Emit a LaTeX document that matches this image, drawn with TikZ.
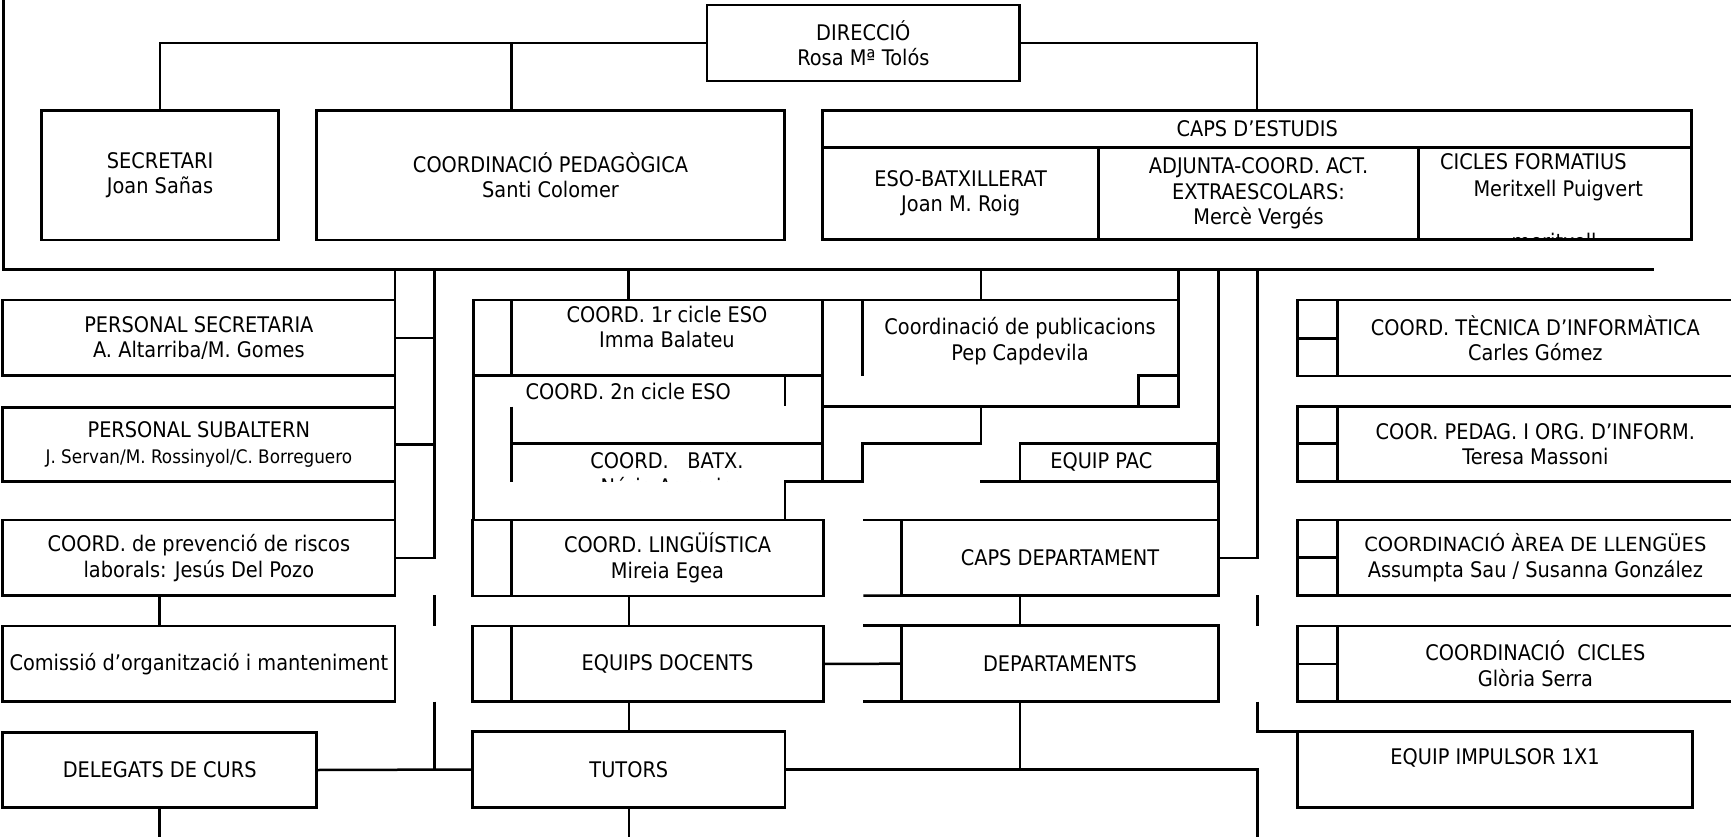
\documentclass[tikz,border=0pt]{standalone}
\usepackage{fontspec}
\setmainfont{DejaVu Sans}[FakeStretch=0.9]
\newfontfamily\widefont{DejaVu Sans}
\def\lw{2.5pt}
\def\orgbox(#1)(#2,#3)(#4,#5)#6{\node[bx, minimum width={(#4-(#2))*1pt}, minimum height={(#5-(#3))*1pt}] (#1) at ({(#2+#4)/2},{(#3+#5)/2}) {#6};}
\tikzset{
  bx/.style={draw, line width=\lw, inner sep=0pt, outer sep=0pt, align=center},
  ln/.style={line width=\lw},
  txt/.style={inner sep=0pt, align=center}
}

\begin{document}
\begin{tikzpicture}[x=1pt, y=-1pt, every node/.style={font=\fontsize{21.5}{25.5}\selectfont}]
			%%%%% START %%%%%
			\useasboundingbox (0,0) rectangle (1731,837);
			\clip (0,0) rectangle (1731,837);
			
			\orgbox(dir)(707,5)(1019.7,81){DIRECCIÓ\\Rosa Mª Tolós}
			\orgbox(sec)(41.7,110.7)(278.3,240){SECRETARI\\Joan Sañas}
			\orgbox(cped)(316.5,110.7)(784.5,240){COORDINACIÓ PEDAGÒGICA\\Santi Colomer}
			\orgbox(capsh)(822.6,110.7)(1691.7,147.5){CAPS D’ESTUDIS}
			\orgbox(eso)(822.6,147.5)(1098.7,239.3){ESO-BATXILLERAT\\Joan M. Roig}
			\orgbox(adj)(1098.7,147.5)(1418.3,239.3){ADJUNTA-COORD. ACT.\\EXTRAESCOLARS:\\Mercè Vergés}
			\orgbox(cfm)(1418.3,147.5)(1691.7,239.3){}
			\node[txt, anchor=base west] (cfmt) at (1440,170) {CICLES FORMATIUS};
			\node[txt, anchor=base west] (cfmn) at (1473.3,196.7) {Meritxell Puigvert};
			\begin{scope}
				\clip (cfm.north west) rectangle (cfm.south east);
				\node[txt, anchor=base] (cfmm) at (1554,249.5) {meritxell};
			\end{scope}
			
			\coordinate (cpedin) at (511.5,110.7);
			\draw[ln] (dir.west) -| (sec.north);
			\draw[ln] (cpedin) -- (cpedin |- dir.west);
			\draw[ln] (dir.east) -| (capsh.north);
			
			\coordinate (fr) at (3.3,269.3);
			\draw[ln] (3.3,0) -- (fr) -- (1654,269.3);
			
			% left column
			\orgbox(psec)(2.7,300)(395,375.7){PERSONAL SECRETARIA\\A. Altarriba/M. Gomes}
			\orgbox(psub)(2.7,407.3)(395,481.7){PERSONAL SUBALTERN\\{\fontsize{18.7}{21}\selectfont J. Servan/M. Rossinyol/C. Borreguero}}
			\orgbox(prev)(2.7,520)(395,595.7){COORD. de prevenció de riscos\\laborals: Jesús Del Pozo}
			\orgbox(com)(2.7,626)(395,701.7){Comissió d’organització i manteniment}
			\orgbox(del)(2.7,732.3)(316.7,807.7){DELEGATS DE CURS}
			
			\coordinate (lb) at (434.3,269.3);
			\draw[ln] (psec.north east |- fr) -- (prev.south east);
			\draw[ln] (lb) |- (prev.east);
			\draw[ln] (psec.east) -- (psec.east -| lb);
			\draw[ln] (psub.east) -- (psub.east -| lb);
			\draw[ln] (del.north |- prev.south) -- (del.north |- com.north);
			\draw[ln] (del.south) -- ++(0,32);
			\draw[ln] (434.3,595) -- (434.3,625.7);
			\draw[ln] (434.3,701.7) -- (434.3,769.5);
			
			% middle column
			\orgbox(c1tab)(473.3,300)(511.7,375.7){}
			\orgbox(c1)(511.7,300)(822.7,375.7){}
			\node[txt] (c1t) at (667,327) {COORD. 1r cicle ESO\\Imma Balateu};
			\orgbox(pub)(822.7,300)(1178.3,406.7){}
			\orgbox(pubsq)(1138.3,375.7)(1178.3,406.7){}
			\node[txt] (pubt) at (1020,341) {Coordinació de publicacions\\Pep Capdevila};
			\draw[ln] (862.7,300) -- (862.7,375.7);
			\draw[ln] (628.3,269.3) -- (628.3,300);
			\draw[ln] (981,269.3) -- (981,300);
			\draw[ln] (pub.north east |- fr) -- (pub.north east);
			
			\draw[ln] (c1tab.south west) -- (473.3,520);
			\draw[ln] (pub.south west) -- (822.7,481.7);
			\draw[ln] (785,375.7) -- (785,405.7);
			\draw[ln] (511.7,406.7) -- (511.7,481.7);
			\draw[ln] (511.7,443.3) -- (822.7,443.3);
			\node[txt] (c2t) at (628.3,391.3) {COORD. 2n cicle ESO};
			\node[txt] (batx) at (667,461) {COORD.~~~BATX.};
			\begin{scope}
				\clip (511.7,443.3) rectangle (822.7,481.7);
				\node[txt, anchor=base] (nur) at (667,494) {Núria Asensio};
			\end{scope}
			\draw[ln] (785,520) -- (785,481.7) -- (862.7,481.7) -- (862.7,443.3) -- (981,443.3) -- (981,406.7);
			
			\orgbox(pac)(1020,443.3)(1217.7,481.7){}
			\node[txt] (pact) at (1101.3,462) {EQUIP PAC};
			\draw[ln] (980,481.7) -- (pac.south west);
			
			\orgbox(lingtab)(472.7,520)(511.7,596){}
			\orgbox(ling)(511.7,520)(823.3,596){COORD. LINGÜÍSTICA\\Mireia Egea}
			\orgbox(eqdtab)(472.7,626)(511.7,701.7){}
			\orgbox(eqd)(511.7,626)(823.3,701.7){EQUIPS DOCENTS}
			\orgbox(tut)(472.7,731.7)(785,807.3){TUTORS}
			
			\draw[ln] (tut.north |- ling.south) -- (tut.north |- eqd.north);
			\draw[ln] (tut.north |- eqd.south) -- (tut.north);
			\draw[ln] (tut.south) -- ++(0,32);
			\draw[ln] (del.east) -- (tut.west);
			
			% departments
			\orgbox(capd)(901.7,520)(1218.3,595.7){CAPS DEPARTAMENT}
			\orgbox(deps)(901.7,625.7)(1218.3,701.7){DEPARTAMENTS}
			\draw[ln] (863.3,520) -- (capd.north west);
			\draw[ln] (863.3,595.7) -- (capd.south west);
			\draw[ln] (863.3,625.7) -- (deps.north west);
			\draw[ln] (863.3,701.7) -- (deps.south west);
			\draw[ln] (eqd.east) -- (deps.west);
			\draw[ln] (1020,595.7) -- (1020,625.7);
			\draw[ln] (1020,701.7) -- (1020,769.5);
			
			\coordinate (rb) at (1257.7,269.3);
			\coordinate (tb) at (1257.7,837);
			\draw[ln] (tut.east) -| (tb);
			\draw[ln] (capd.south east) -- (capd.south east |- fr);
			\draw[ln] (capd.east) -| (rb);
			\draw[ln] (1257.7,595) -- (1257.7,625.7);
			
			% right column
			\orgbox(inft1)(1297.7,300)(1337.7,338.3){}
			\orgbox(inft2)(1297.7,338.3)(1337.7,376){}
			\orgbox(inf)(1337.7,300)(1733,376){COORD. TÈCNICA D’INFORMÀTICA\\Carles Gómez}
			\orgbox(pedt1)(1297.7,406.7)(1337.7,443.3){}
			\orgbox(pedt2)(1297.7,443.3)(1337.7,481.7){}
			\orgbox(ped)(1337.7,406.7)(1733,481.7){COOR. PEDAG. I ORG. D’INFORM.\\Teresa Massoni}
			\orgbox(llgt1)(1297.7,520)(1337.7,557.7){}
			\orgbox(llgt2)(1297.7,557.7)(1337.7,595.7){}
			\orgbox(llg)(1337.7,520)(1733,595.7){{\widefont\fontsize{19.5}{22}\selectfont COORDINACIÓ ÀREA DE LLENGÜES}\\Assumpta Sau / Susanna González}
			\orgbox(cict1)(1297.7,626)(1337.7,664){}
			\orgbox(cict2)(1297.7,664)(1337.7,701.7){}
			\orgbox(cic)(1337.7,626)(1733,701.7){COORDINACIÓ~~CICLES\\Glòria Serra}
			\orgbox(imp)(1297.7,731.7)(1692.3,807.7){}
			\node[txt] (impt) at (1495,757.5) {EQUIP IMPULSOR 1X1};
			
			\draw[ln] (1257.7,701.7) |- (imp.north west);
			%%%%% END %%%%%
\end{tikzpicture}
\end{document}
